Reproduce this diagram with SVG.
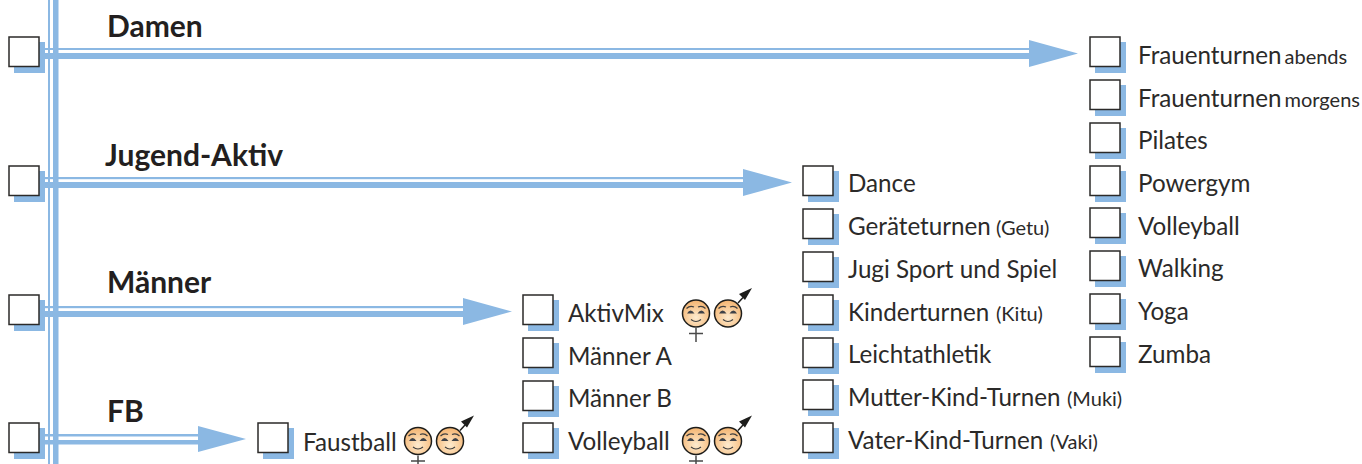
<svg xmlns="http://www.w3.org/2000/svg" width="1362" height="464" viewBox="0 0 1362 464">
<style>
text{font-family:"Lato","Liberation Sans",sans-serif;fill:#2b2a29}
.t{font-size:24.200px}
.s{font-size:20px}
.h{font-size:30px;font-weight:700;fill:#231f20}
.b{fill:#8bb8e3}
.bx{fill:#fff;stroke:#2b2a29;stroke-width:1.5}
.fc{stroke:#1d1d1b;stroke-width:1.5;fill:url(#skin)}
.ln{stroke:#3f3f3f;stroke-width:1.2;fill:none}
</style>
<defs>
<radialGradient id="skin" cx="50%" cy="65%" r="60%"><stop offset="0" stop-color="#fdebcf"/><stop offset="1" stop-color="#f5b877"/></radialGradient>
<g id="cb"><rect class="b" x="5" y="5" width="31" height="31"/><rect class="bx" x="0" y="0" width="30" height="29.5"/></g>
<g id="face"><circle class="fc" cx="0" cy="0" r="13.500"/><path class="ln" d="M-9.500-5q3.500-3.500 7.500-1.500M2-6.500q4-2 7.500 1.500M-5 6q5 4 10 0"/><path d="M-9 0q3.500-6 7.500 0zM1.500 0q4-6 7.500 0z" fill="#3f4248"/></g>
<g id="pair"><use href="#face" x="0" y="0"/><use href="#face" x="32" y="0"/><path d="M0 14.500V28.500M-7 20H7" stroke="#4a4a4a" stroke-width="1.5" fill="none"/><path d="M42-10.500L47-16" stroke="#1d1d1b" stroke-width="1.5"/><path d="M56-25.500L43-19.500L49-13.500Z" fill="#1d1d1b"/></g>
</defs>
<g id="connectors">
<rect class="b" x="48" y="0" width="2" height="464"/><rect class="b" x="53" y="0" width="5.500" height="464"/>
<g id="arrow-damen"><rect class="b" x="39" y="48" width="996" height="2"/><rect class="b" x="39" y="53" width="996" height="6"/><path class="b" d="M1029 40L1078 53.500L1029 67Z"/></g>
<g id="arrow-jugend"><rect class="b" x="39" y="177" width="710" height="2.200"/><rect class="b" x="39" y="182" width="710" height="6"/><path class="b" d="M743 169L792 182.500L743 196Z"/></g>
<g id="arrow-maenner"><rect class="b" x="39" y="306" width="430" height="2.200"/><rect class="b" x="39" y="311" width="430" height="6"/><path class="b" d="M463 298L512 311.500L463 325Z"/></g>
<g id="arrow-fb"><rect class="b" x="39" y="434" width="164" height="2.500"/><rect class="b" x="39" y="440" width="164" height="4.500"/><path class="b" d="M198 426L246 439L198 452Z"/></g>
</g>
<g id="damen"><use href="#cb" x="9" y="37"/><text class="h" x="107" y="37">Damen</text></g>
<g id="jugend"><use href="#cb" x="9" y="166"/><text class="h" x="105" y="166">Jugend-Aktiv</text></g>
<g id="maenner"><use href="#cb" x="9" y="295"/><text class="h" x="107" y="293">Männer</text></g>
<g id="fb"><use href="#cb" x="9" y="423"/><text class="h" x="107" y="421.500">FB</text></g>
<g id="faustball"><use href="#cb" x="258" y="423"/><text class="t" x="303" y="451">Faustball</text><use href="#pair" x="418" y="441"/></g>
<g id="aktivmix"><use href="#cb" x="523" y="295"/><text class="t" x="568" y="322">AktivMix</text><use href="#pair" x="696" y="313.500"/></g>
<g id="maenner-a"><use href="#cb" x="523" y="338"/><text class="t" x="568" y="365">Männer A</text></g>
<g id="maenner-b"><use href="#cb" x="523" y="381"/><text class="t" x="568" y="407">Männer B</text></g>
<g id="volleyball-m"><use href="#cb" x="523" y="423"/><text class="t" x="568" y="450">Volleyball</text><use href="#pair" x="696" y="441"/></g>
<g id="dance"><use href="#cb" x="803" y="166"/><text class="t" x="848" y="192">Dance</text></g>
<g id="getu"><use href="#cb" x="803" y="209"/><text class="t" x="848" y="235">Geräteturnen <tspan class="s" x="996">(Getu)</tspan></text></g>
<g id="jugi"><use href="#cb" x="803" y="252"/><text class="t" x="848" y="278">Jugi Sport und Spiel</text></g>
<g id="kitu"><use href="#cb" x="803" y="295"/><text class="t" x="848" y="321">Kinderturnen <tspan class="s" x="996">(Kitu)</tspan></text></g>
<g id="leicht"><use href="#cb" x="803" y="338"/><text class="t" x="848" y="363">Leichtathletik</text></g>
<g id="muki"><use href="#cb" x="803" y="380"/><text class="t" x="848" y="406">Mutter-Kind-Turnen <tspan class="s" x="1067">(Muki)</tspan></text></g>
<g id="vaki"><use href="#cb" x="803" y="423"/><text class="t" x="848" y="449">Vater-Kind-Turnen <tspan class="s" x="1050">(Vaki)</tspan></text></g>
<g id="fa"><use href="#cb" x="1090" y="37"/><text class="t" x="1138" y="64">Frauenturnen <tspan class="s" x="1284.500">abends</tspan></text></g>
<g id="fm"><use href="#cb" x="1090" y="80"/><text class="t" x="1138" y="107">Frauenturnen <tspan class="s" x="1284.500">morgens</tspan></text></g>
<g id="pilates"><use href="#cb" x="1090" y="123"/><text class="t" x="1138" y="149">Pilates</text></g>
<g id="powergym"><use href="#cb" x="1090" y="166"/><text class="t" x="1138" y="192">Powergym</text></g>
<g id="volleyball-d"><use href="#cb" x="1090" y="208"/><text class="t" x="1138" y="235">Volleyball</text></g>
<g id="walking"><use href="#cb" x="1090" y="251"/><text class="t" x="1138" y="277">Walking</text></g>
<g id="yoga"><use href="#cb" x="1090" y="294"/><text class="t" x="1138" y="320">Yoga</text></g>
<g id="zumba"><use href="#cb" x="1090" y="337"/><text class="t" x="1138" y="363">Zumba</text></g>
</svg>
